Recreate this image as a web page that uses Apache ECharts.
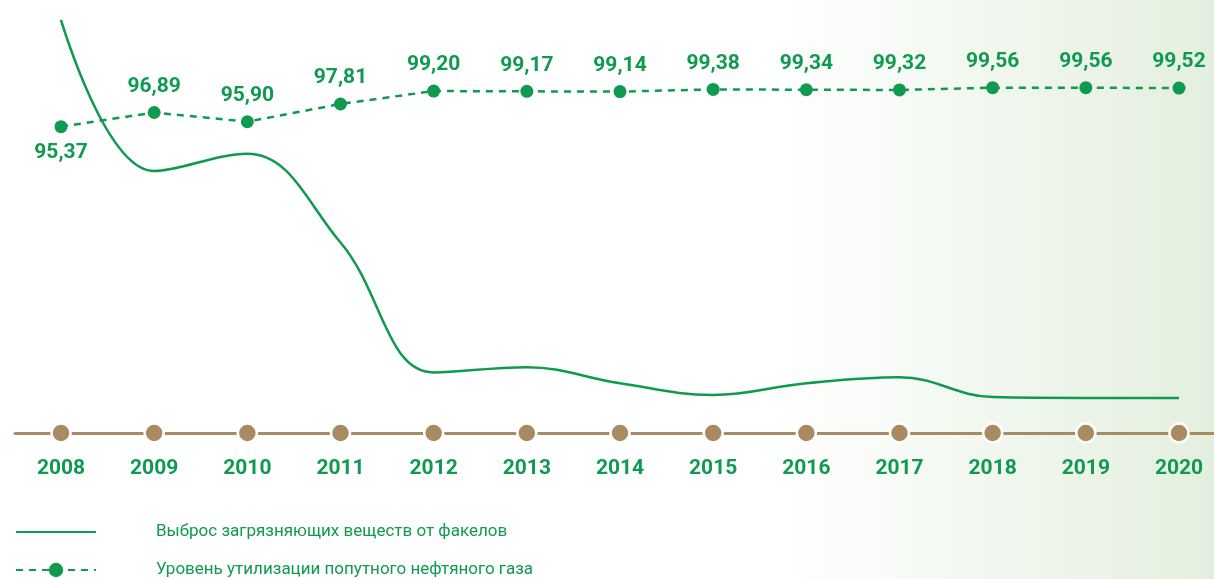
<!DOCTYPE html>
<html>
<head>
<meta charset="utf-8">
<title>Утилизация ПНГ</title>
<script src="https://cdn.jsdelivr.net/npm/echarts@6/dist/echarts.min.js"></script>
<style>
  html, body { margin: 0; padding: 0; background: #fff; }
  #chart { width: 1214px; height: 579px; }
</style>
</head>
<body>
<div id="chart"></div>
<script>
// годы
const years = ["2008", "2009", "2010", "2011", "2012", "2013", "2014", "2015", "2016", "2017", "2018", "2019", "2020"];
// уровень утилизации ПНГ, %
const utilization = [95.37, 96.89, 95.9, 97.81, 99.2, 99.17, 99.14, 99.38, 99.34, 99.32, 99.56, 99.56, 99.52];
// выброс от факелов (относительные значения, оценка по рисунку)
const emission = [95.4, 60.5, 64.5, 44.0, 14.0, 15.2, 11.5, 8.8, 11.5, 12.9, 8.3, 8.1, 8.1];
// точки на оси
const axisDots = [0, 0, 0, 0, 0, 0, 0, 0, 0, 0, 0, 0, 0];

const seriesNames = ["Выброс загрязняющих веществ от факелов", "Уровень утилизации попутного нефтяного газа"];

const green = "#109a50";
const brown = "#a98b63";

let chart = echarts.init(document.getElementById("chart"));
let option = {
  backgroundColor: new echarts.graphic.LinearGradient(0, 0, 1, 0, [
    { offset: 0, color: "#ffffff" },
    { offset: 0.64, color: "#ffffff" },
    { offset: 1, color: "#e3efde" },
  ]),
  textStyle: { fontFamily: "Roboto" },
  grid: [
    // основная область
    { left: 61, right: 35, top: 0, bottom: 146 },
    // только для линии оси на всю ширину
    { left: 15, right: 0, top: 0, bottom: 146 },
  ],
  legend: {
    data: [
      { name: seriesNames[0], itemStyle: { opacity: 0 } },
      { name: seriesNames[1], lineStyle: { type: [7, 6] } },
    ],
    orient: "vertical",
    left: 15,
    top: 523,
    padding: 0,
    itemWidth: 80,
    itemHeight: 18,
    itemGap: 20,
    selectedMode: false,
    textStyle: {
      color: green,
      fontSize: 17,
      lineHeight: 18,
      padding: [0, 0, 0, 55],
    },
  },
  xAxis: [
    {
      type: "category",
      data: years,
      boundaryGap: false,
      axisLine: { show: false },
      axisTick: { show: false },
      axisLabel: {
        color: green,
        fontSize: 21,
        fontWeight: "bold",
        margin: 25,
      },
      z: 3,
    },
    {
      type: "value",
      gridIndex: 1,
      min: 0,
      max: 1,
      axisLine: { show: true, lineStyle: { color: brown, width: 3 } },
      axisTick: { show: false },
      axisLabel: { show: false },
      splitLine: { show: false },
    },
  ],
  yAxis: [
    { type: "value", min: 62.4, max: 109, show: false },
    { type: "value", min: 0, max: 100, show: false },
    { type: "value", gridIndex: 1, min: 0, max: 1, show: false },
  ],
  series: [
    {
      name: seriesNames[0],
      type: "line",
      yAxisIndex: 1,
      data: emission,
      smooth: 0.4,
      symbol: "none",
      lineStyle: { color: green, width: 2.5 },
      itemStyle: { color: green },
    },
    {
      name: seriesNames[1],
      type: "line",
      yAxisIndex: 0,
      data: utilization.map((v, i) => (i === 0 ? { value: v, label: { position: "bottom" } } : v)),
      symbol: "circle",
      symbolSize: 13,
      lineStyle: { color: green, width: 2.5, type: [7, 6] },
      itemStyle: { color: green },
      label: {
        show: true,
        position: "top",
        distance: 9,
        color: green,
        fontSize: 21,
        fontWeight: "bold",
        formatter: (p) => p.value.toFixed(2).replace(".", ","),
      },
    },
    {
      name: "axis",
      type: "scatter",
      yAxisIndex: 1,
      data: axisDots,
      symbol: "circle",
      symbolSize: 19,
      itemStyle: { color: brown, opacity: 1, borderColor: "#ffffff", borderWidth: 2.5 },
      z: 5,
    },
  ],
};
chart.setOption(option);
</script>
</body>
</html>
